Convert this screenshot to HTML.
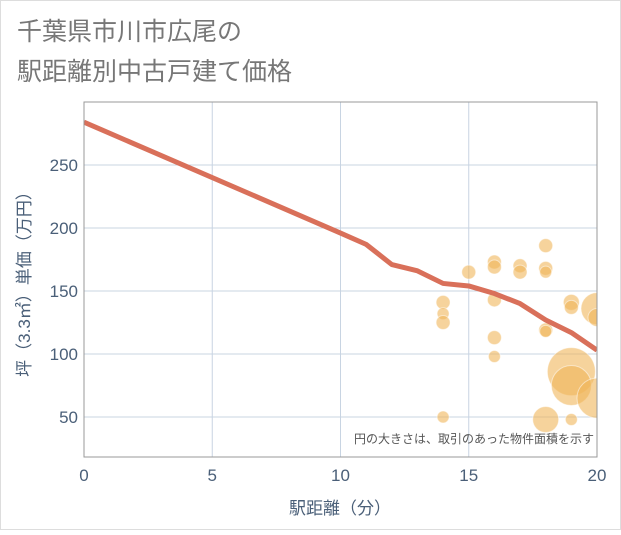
<!DOCTYPE html>
<html><head><meta charset="utf-8"><style>
body{margin:0;background:#fff;}
svg text{font-family:"Liberation Sans","Noto Sans CJK JP",sans-serif;}
</style></head><body>
<svg width="621" height="530" viewBox="0 0 621 530">
<defs><clipPath id="pc"><rect x="84" y="102" width="513" height="355"/></clipPath></defs>
<rect x="0.5" y="0.5" width="620" height="529" fill="#fff" stroke="#ddd"/>
<text x="17" y="40" font-size="25" fill="#777">千葉県市川市広尾の</text>
<text x="17" y="80" font-size="25" fill="#777">駅距離別中古戸建て価格</text>
<g id="grid"></g>
<g id="bubbles" clip-path="url(#pc)"></g>
<g id="line" clip-path="url(#pc)"></g>
<rect x="84" y="102" width="513" height="355" fill="none" stroke="#999"/>
<g id="ticks"></g>
<text x="340" y="514" font-size="17" fill="#4a5f78" text-anchor="middle">駅距離（分）</text>
<text transform="translate(30,280) rotate(-90)" font-size="17" fill="#4a5f78" text-anchor="middle">坪（3.3㎡）単価（万円）</text>
<text x="594" y="443" font-size="12" fill="#555" text-anchor="end">円の大きさは、取引のあった物件面積を示す</text>
</svg>
<script>
const xTicks=[0,5,10,15,20];
const yTicks=[50,100,150,200,250];
const lineX=[0,10,11,12,13,14,15,16,17,18,19,20];
const lineY=[284,196,187,171,166,156,154,148,140,127,117,103];
const bubX=[14,14,14,14,15,16,16,16,16,16,17,17,18,18,18,18,18,18,19,19,19,19,19,20,20,20];
const bubY=[141,132,125,50,165,173,169,143,113,98,170,165,186,168,165,119,118,48,48,141,137,86,75,136,129,65];
const bubR=[7,6,7,6,7,7,7,7,7,6,7,7,7,7,6,7,6,13,6,8,7,24,20,16,9,20];
const NS="http://www.w3.org/2000/svg";
const X=v=>84+v*513/20, Y=v=>480-v*1.26;
const g=document.getElementById('grid'),t=document.getElementById('ticks');
xTicks.forEach(v=>{
 const l=document.createElementNS(NS,'line');
 
 
 l.setAttribute('x1',X(v));l.setAttribute('x2',X(v));l.setAttribute('y1',102);l.setAttribute('y2',457);l.setAttribute('stroke','#c8d4e2');g.appendChild(l);
 const s=document.createElementNS(NS,'text');
 
 
 s.setAttribute('x',X(v));s.setAttribute('y',481);s.setAttribute('font-size',17);s.setAttribute('fill','#4a5f78');s.setAttribute('text-anchor','middle');s.textContent=v;t.appendChild(s);
});
yTicks.forEach(v=>{
 const l=document.createElementNS(NS,'line');
 
 
 l.setAttribute('x1',84);l.setAttribute('x2',597);l.setAttribute('y1',Y(v));l.setAttribute('y2',Y(v));l.setAttribute('stroke','#c8d4e2');g.appendChild(l);
 const s=document.createElementNS(NS,'text');
 
 
 s.setAttribute('x',78);s.setAttribute('y',Y(v)+6);s.setAttribute('font-size',17);s.setAttribute('fill','#4a5f78');s.setAttribute('text-anchor','end');s.textContent=v;t.appendChild(s);
});
const b=document.getElementById('bubbles');
bubX.forEach((v,i)=>{
 const c=document.createElementNS(NS,'circle');
 
 
 c.setAttribute('cx',X(v));c.setAttribute('cy',Y(bubY[i]));c.setAttribute('r',bubR[i]);
 c.setAttribute('fill','#f0b65a');c.setAttribute('fill-opacity','0.6');c.setAttribute('stroke','#fff');c.setAttribute('stroke-opacity','0.5');b.appendChild(c);
});
const p=document.createElementNS(NS,'polyline');


p.setAttribute('points',lineX.map((v,i)=>X(v)+','+Y(lineY[i])).join(' '));
p.setAttribute('fill','none');p.setAttribute('stroke','#d9705a');p.setAttribute('stroke-width',5);p.setAttribute('stroke-linejoin','round');
document.getElementById('line').appendChild(p);
</script>
</body></html>
